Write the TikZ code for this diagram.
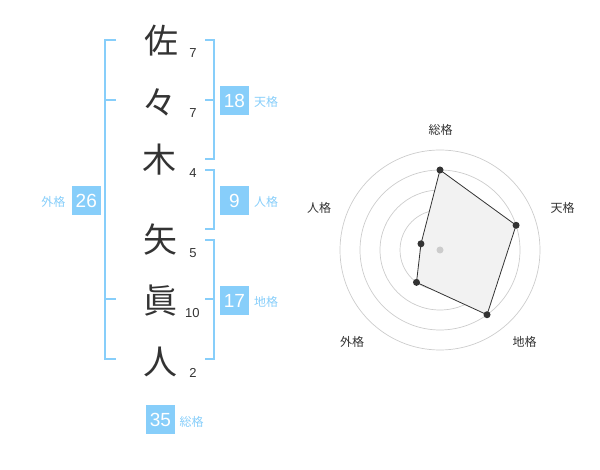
\documentclass[tikz,border=0pt]{standalone}
\usepackage{fontspec}
\usetikzlibrary{calc}
\setmainfont{Liberation Sans}
\newfontfamily\jp{Noto Sans CJK JP}
\definecolor{sky}{HTML}{87CEFA}
\definecolor{ink}{HTML}{333333}
\definecolor{ring}{HTML}{CCCCCC}
\definecolor{area}{HTML}{F2F2F2}
\begin{document}
\begin{tikzpicture}[x=1pt,y=-1pt,
  kanji/.style={inner sep=0pt,text=ink,font=\jp\fontsize{34}{34}\selectfont},
  stroke/.style={inner sep=0pt,text=ink,font=\fontsize{13}{13}\selectfont},
  bracket/.style={draw=sky,line width=1.8pt},
  valbox/.style={fill=sky,text=white,minimum size=29pt,inner sep=0pt,font=\fontsize{19}{19}\selectfont},
  kaku/.style={inner sep=0pt,text=sky,font=\jp\fontsize{12}{12}\selectfont},
  ringline/.style={draw=ring,line width=0.7pt},
  axislabel/.style={inner sep=0pt,text=ink,font=\jp\fontsize{12}{12}\selectfont},
  dot/.style={circle,fill=ink,inner sep=0pt,minimum size=7pt}
]
\useasboundingbox (0,0) rectangle (600,470);

% name characters
\node[kanji] (c1) at (161,41) {佐};
\node[kanji] (c2) at (159,102) {々};
\node[kanji] (c3) at (159,160) {木};
\node[kanji] (c4) at (160,240) {矢};
\node[kanji] (c5) at (160,301) {眞};
\node[kanji] (c6) at (160,362) {人};

% stroke counts
\node[stroke] (s1) at (193,52.7) {7};
\node[stroke] (s2) at (193,112.7) {7};
\node[stroke] (s3) at (193,173.3) {4};
\node[stroke] (s4) at (193,252.7) {5};
\node[stroke] (s5) at (192.3,312.7) {10};
\node[stroke] (s6) at (193,373.3) {2};

% brackets
\draw[bracket] (116,40) -- (105,40) -- (105,359) -- (116,359);
\draw[bracket] (105,100) -- (116,100);
\draw[bracket] (105,299) -- (116,299);
\draw[bracket] (205,40) -- (214,40) -- (214,159) -- (205,159);
\draw[bracket] (214,100) -- (205,100);
\draw[bracket] (205,170) -- (214,170) -- (214,229) -- (205,229);
\draw[bracket] (205,240) -- (214,240) -- (214,359) -- (205,359);
\draw[bracket] (214,299) -- (205,299);

% value boxes
\node[valbox] (ten) at (234.5,100.5) {18};
\node[kaku] (tenl) at (266,102) {天格};
\node[valbox] (jin) at (234.5,200.5) {9};
\node[kaku] (jinl) at (266,202) {人格};
\node[valbox] (gai) at (86.3,200.5) {26};
\node[kaku] (gail) at (53.3,202) {外格};
\node[valbox] (chi) at (234.5,300.5) {17};
\node[kaku] (chil) at (266,302) {地格};
\node[valbox] (sou) at (160.5,419.5) {35};
\node[kaku] (soul) at (191.5,422) {総格};

% radar chart
\coordinate (o) at (440,250);
\foreach \r in {20,40,60,80,100} \draw[ringline] (o) circle[radius=\r];
\coordinate (pSou) at ($(o)+(-90:80)$);
\coordinate (pTen) at ($(o)+(-18:80)$);
\coordinate (pChi) at ($(o)+(54:80)$);
\coordinate (pGai) at ($(o)+(126:40)$);
\coordinate (pJin) at ($(o)+(-162:20)$);
\draw[fill=area,draw=ink,line width=0.8pt] (pSou) -- (pTen) -- (pChi) -- (pGai) -- (pJin) -- cycle;
\node[circle,fill=ring,inner sep=0pt,minimum size=7pt] (center) at (o) {};
\foreach \p in {pSou,pTen,pChi,pGai,pJin} \node[dot] at (\p) {};

\node[axislabel] (aSou) at (440.5,130) {総格};
\node[axislabel] (aTen) at (562.5,208) {天格};
\node[axislabel] (aChi) at (524.5,342) {地格};
\node[axislabel] (aGai) at (352,342) {外格};
\node[axislabel] (aJin) at (319,208) {人格};
\end{tikzpicture}
\end{document}
